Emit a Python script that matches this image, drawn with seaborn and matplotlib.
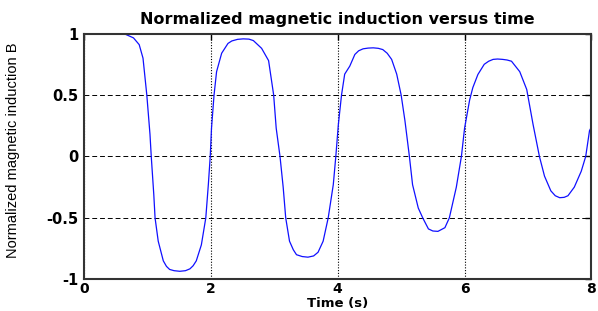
import pandas as pd
import matplotlib.pyplot as plt
import seaborn as sns

# values
time_s = [0.49, 0.65, 0.78, 0.87, 0.93, 0.99, 1.04, 1.06, 1.10, 1.12, 1.17, 1.25, 1.30, 1.35, 1.42,
          1.51, 1.60, 1.67, 1.72, 1.77, 1.85, 1.92, 1.96, 1.99, 2.01, 2.05, 2.09, 2.17, 2.27, 2.33,
          2.42, 2.51, 2.60, 2.67, 2.80, 2.91, 2.99, 3.03, 3.09, 3.14, 3.18, 3.24, 3.30, 3.35, 3.44,
          3.53, 3.62, 3.69, 3.77, 3.85, 3.93, 3.97, 4.01, 4.06, 4.11, 4.19, 4.27, 4.33, 4.40, 4.48,
          4.56, 4.64, 4.71, 4.78, 4.85, 4.93, 5.00, 5.06, 5.13, 5.18, 5.27, 5.34, 5.43, 5.50, 5.58,
          5.69, 5.76, 5.87, 5.95, 6.00, 6.08, 6.13, 6.21, 6.31, 6.38, 6.45, 6.52, 6.60, 6.67, 6.74,
          6.87, 6.98, 7.08, 7.18, 7.26, 7.36, 7.43, 7.50, 7.57, 7.63, 7.73, 7.84, 7.91, 7.97, 8.00]
induction = [0.995, 0.995, 0.965, 0.91, 0.80, 0.50, 0.18, 0.00, -0.31, -0.50, -0.69, -0.85, -0.895, -0.92,
             -0.93, -0.935, -0.93, -0.915, -0.89, -0.85, -0.72, -0.50, -0.23, 0.00, 0.23, 0.50, 0.69,
             0.84, 0.92, 0.94, 0.953, 0.957, 0.955, 0.943, 0.88, 0.78, 0.50, 0.23, 0.00, -0.25, -0.50,
             -0.69, -0.76, -0.80, -0.815, -0.82, -0.81, -0.78, -0.69, -0.50, -0.23, 0.00, 0.26, 0.50,
             0.67, 0.735, 0.83, 0.86, 0.876, 0.882, 0.884, 0.88, 0.87, 0.84, 0.79, 0.67, 0.50, 0.29,
             0.00, -0.23, -0.42, -0.50, -0.59, -0.607, -0.61, -0.58, -0.50, -0.25, 0.00, 0.23, 0.46,
             0.56, 0.667, 0.75, 0.775, 0.79, 0.793, 0.79, 0.785, 0.775, 0.69, 0.545, 0.26, 0.00,
             -0.16, -0.28, -0.32, -0.336, -0.333, -0.32, -0.25, -0.12, 0.00, 0.21, 0.24]
x_ticks = [0, 2, 4, 6, 8]
y_ticks = [-1, -0.5, 0, 0.5, 1]
y_tick_labels = ["-1", "-0.5", "0", "0.5", "1"]

df = pd.DataFrame({"t": time_s, "B": induction})

sns.set_style("white")
plt.rcParams["font.family"] = ["DejaVu Sans"]
plt.rcParams["text.color"] = "black"
plt.rcParams["axes.labelcolor"] = "black"

fig = plt.figure(figsize=(5.98, 3.11), dpi=100)
ax = fig.add_axes([0.1405, 0.102, 0.8485, 0.79])

sns.lineplot(data=df, x="t", y="B", ax=ax, color="#1010ff", linewidth=0.9, sort=False)

ax.set_xlim(0, 8)
ax.set_ylim(-1, 1)
ax.set_xticks(x_ticks)
ax.set_yticks(y_ticks)
ax.set_yticklabels(y_tick_labels)

# MATLAB-like grid: dotted verticals, dashed horizontals
ax.xaxis.grid(True, linestyle=(0, (1, 1.5)), color="black", linewidth=0.8)
ax.yaxis.grid(True, linestyle=(0, (5, 3)), color="black", linewidth=0.7)

for s in ax.spines.values():
    s.set_color("#333333")
    s.set_linewidth(1.5)

ax.tick_params(direction="in", length=4, width=1, top=True, right=True,
               labelsize=10.5, colors="black", pad=4)
ax.tick_params(axis="x", labelsize=10, pad=2)
for lab in ax.get_xticklabels() + ax.get_yticklabels():
    lab.set_fontweight("bold")

ax.set_title("Normalized magnetic induction versus time", fontsize=11.5, fontweight="bold",
             color="black", pad=7)
ax.set_xlabel("Time (s)", fontsize=9.5, fontweight="bold", va="bottom", color="black")
ax.xaxis.set_label_coords(0.5, -0.127)
ax.set_ylabel("Normalized magnetic induction B", fontsize=10.5, color="black",
              family=["Liberation Sans", "DejaVu Sans"])
ax.yaxis.set_label_coords(-0.126, 0.526)

plt.savefig("out.png", dpi=100)
plt.close()
